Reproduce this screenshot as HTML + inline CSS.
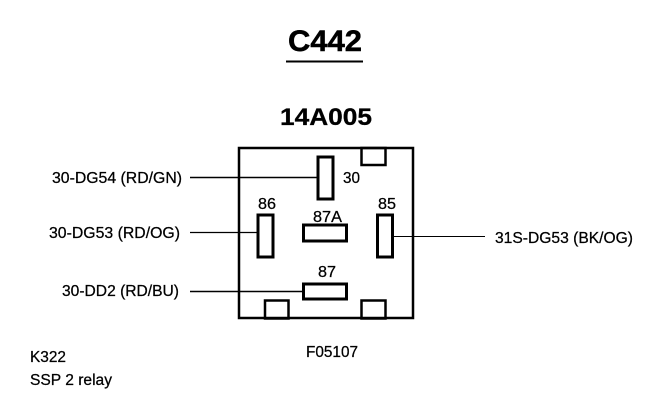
<!DOCTYPE html>
<html><head><meta charset="utf-8"><style>
html,body{margin:0;padding:0;background:#fff}
svg{display:block}
text{font-family:"Liberation Sans",sans-serif;fill:#000}
</style></head><body>
<svg width="672" height="410" viewBox="0 0 672 410" xmlns="http://www.w3.org/2000/svg">
<text x="288" y="51" font-size="30" font-weight="bold" textLength="74" lengthAdjust="spacingAndGlyphs" stroke="#000" stroke-width="0.5">C442</text>
<line x1="286" y1="61.5" x2="363" y2="61.5" stroke="#000" stroke-width="2"/>
<text x="280" y="125" font-size="24" font-weight="bold" textLength="92" lengthAdjust="spacingAndGlyphs" stroke="#000" stroke-width="0.3">14A005</text>
<g fill="none" stroke="#000">
<rect x="239" y="148" width="174" height="170" stroke-width="2.5"/>
<rect x="361.5" y="148" width="24" height="17" stroke-width="2.5"/>
<rect x="265" y="300.5" width="23.5" height="18" stroke-width="2.5"/>
<rect x="361.5" y="300.5" width="24" height="18" stroke-width="2.5"/>
<rect x="318" y="157" width="15" height="42" stroke-width="3"/>
<rect x="258" y="215" width="15" height="42" stroke-width="3"/>
<rect x="377.5" y="215" width="15" height="42" stroke-width="3"/>
<rect x="303.5" y="225" width="43" height="16" stroke-width="3"/>
<rect x="303.5" y="284" width="43" height="15" stroke-width="3"/>
<line x1="190" y1="177.5" x2="318" y2="177.5" stroke-width="1.6"/>
<line x1="190" y1="232.5" x2="258" y2="232.5" stroke-width="1.3"/>
<line x1="393" y1="236.5" x2="485" y2="236.5" stroke-width="1.1"/>
<line x1="190" y1="291.5" x2="303" y2="291.5" stroke-width="1.6"/>
</g>
<g font-size="15.5" stroke="#000" stroke-width="0.25">
<text x="343" y="183" textLength="17" lengthAdjust="spacingAndGlyphs">30</text>
<text x="258" y="209" textLength="18" lengthAdjust="spacingAndGlyphs">86</text>
<text x="378" y="209" textLength="18" lengthAdjust="spacingAndGlyphs">85</text>
<text x="313" y="222" textLength="29" lengthAdjust="spacingAndGlyphs">87A</text>
<text x="318" y="277" textLength="18" lengthAdjust="spacingAndGlyphs">87</text>
<text x="52" y="183" textLength="130" lengthAdjust="spacingAndGlyphs">30-DG54 (RD/GN)</text>
<text x="49" y="238" textLength="131" lengthAdjust="spacingAndGlyphs">30-DG53 (RD/OG)</text>
<text x="495" y="243" textLength="138" lengthAdjust="spacingAndGlyphs">31S-DG53 (BK/OG)</text>
<text x="62" y="296" textLength="117" lengthAdjust="spacingAndGlyphs">30-DD2 (RD/BU)</text>
<text x="306" y="357" textLength="52" lengthAdjust="spacingAndGlyphs">F05107</text>
<text x="30" y="362" textLength="36" lengthAdjust="spacingAndGlyphs">K322</text>
<text x="30" y="385" textLength="82" lengthAdjust="spacingAndGlyphs">SSP 2 relay</text>
</g>
</svg>
</body></html>
